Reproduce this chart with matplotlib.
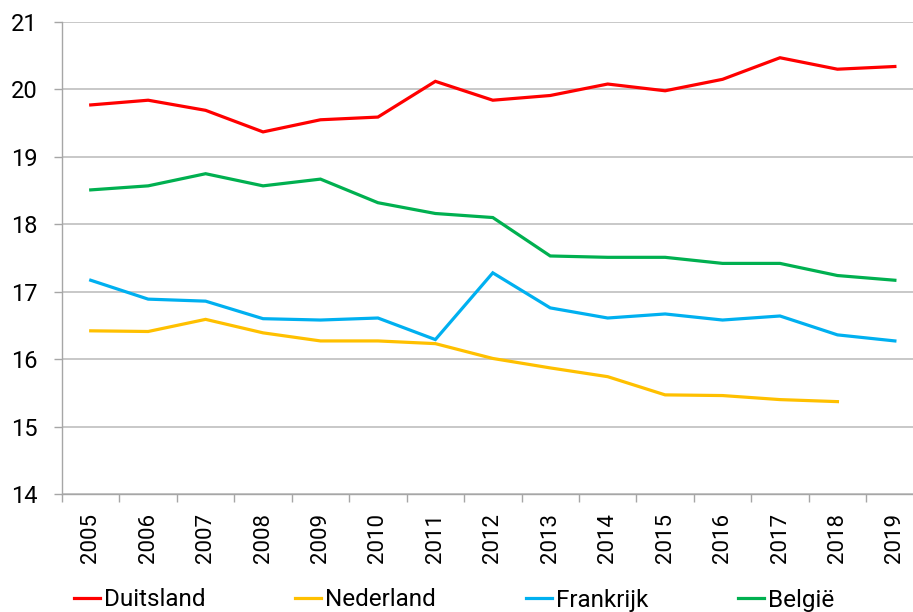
import numpy as np
import matplotlib
matplotlib.use('Agg')
import matplotlib.pyplot as plt
from matplotlib.ticker import FixedLocator

plt.rcParams['font.family'] = ['Roboto', 'DejaVu Sans']

years = [str(y) for y in range(2005, 2020)]
duitsland = [19.77, 19.84, 19.69, 19.37, 19.55, 19.59, 20.12, 19.84, 19.91, 20.08,
             19.98, 20.15, 20.47, 20.30, 20.34]
nederland = [16.42, 16.41, 16.59, 16.39, 16.27, 16.27, 16.23, 16.01, 15.87, 15.74,
             15.47, 15.46, 15.40, 15.37, np.nan]
frankrijk = [17.17, 16.89, 16.86, 16.60, 16.58, 16.61, 16.29, 17.28, 16.76, 16.61,
             16.67, 16.58, 16.64, 16.36, 16.27]
belgie = [18.51, 18.57, 18.75, 18.57, 18.67, 18.32, 18.16, 18.10, 17.53, 17.51,
          17.51, 17.42, 17.42, 17.24, 17.17]

series = [('Duitsland', duitsland, '#FF0000'),
          ('Nederland', nederland, '#FFC000'),
          ('Frankrijk', frankrijk, '#00B0F0'),
          ('België', belgie, '#00B050')]

fig = plt.figure(figsize=(9.13, 6.12), dpi=100)
ax = fig.add_axes([62/913, 118/612, 861.6/913, 472/612])

x = np.arange(len(years))
for name, vals, col in series:
    ax.plot(x, vals, color=col, lw=2.3, label=name, solid_joinstyle='miter')

ax.set_xlim(-0.5, len(years) - 0.5)
ax.set_ylim(14, 21)
ax.set_yticks(range(14, 22))
ax.yaxis.grid(True, color='#BFBFBF', lw=1.2)
ax.set_axisbelow(True)

ax.set_xticks(x)
ax.set_xticklabels(years, rotation=90)
ax.xaxis.set_minor_locator(FixedLocator(np.arange(-0.5, len(years), 1)))
ax.tick_params(axis='x', which='major', length=0, pad=13.5, labelsize=16)
ax.tick_params(axis='x', which='minor', length=5.8, color='#A6A6A6', width=1)
ax.tick_params(axis='y', length=5.8, color='#A6A6A6', width=1, pad=12, labelsize=17)

for s in ['top', 'right']:
    ax.spines[s].set_visible(False)
for s in ['left', 'bottom']:
    ax.spines[s].set_color('#A6A6A6')
    ax.spines[s].set_linewidth(1)

fig.legend(loc='center left', bbox_to_anchor=(74/913, 12/612), ncol=4, frameon=False,
           fontsize=17.5, handlelength=1.07, handletextpad=0.16, columnspacing=3.7,
           borderpad=0, borderaxespad=0)

fig.savefig('out.png', dpi=100)
